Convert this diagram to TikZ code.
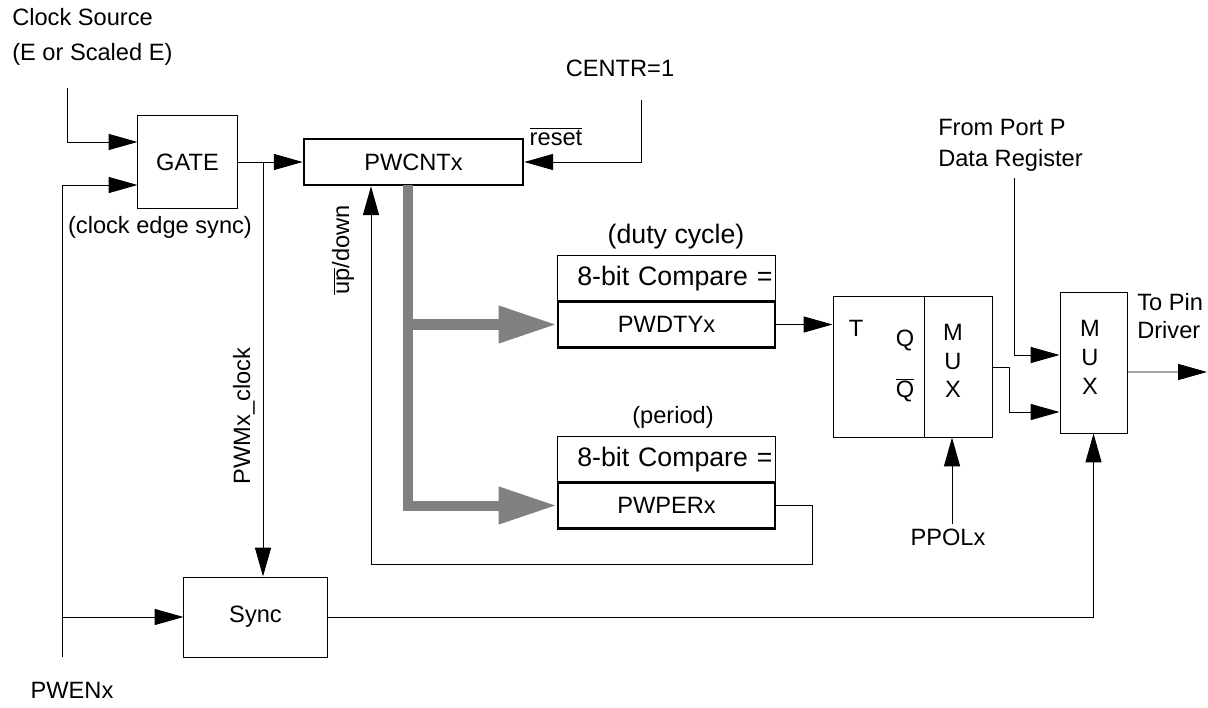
\documentclass[tikz,border=0pt]{standalone}
\usepackage{fontspec}
\setmainfont{Liberation Sans}
\usetikzlibrary{arrows.meta,positioning,calc}
\definecolor{busgray}{RGB}{128,128,128}

\begin{document}
\begin{tikzpicture}[
  x=0.025cm, y=-0.025cm,
  >={Triangle[length=0.72cm,width=0.4cm]},
  every node/.style={font=\fontsize{16.8}{21}\selectfont},
  block/.style={draw, line width=0.7pt, inner sep=0pt},
  regbox/.style={
    draw, line width=1.8pt, inner sep=0pt,
    minimum width=5.425cm, minimum height=1.15cm
  },
  cmpbox/.style={
    draw, line width=0.7pt, inner sep=0pt,
    minimum width=5.425cm, minimum height=1.175cm,
    text width=5.3cm, align=right, font=\fontsize{19}{22}\selectfont
  },
  muxbox/.style={draw, line width=0.7pt, minimum height=3.5cm},
  letters/.style={align=center, font=\fontsize{16.8}{20.5}\selectfont},
  bigtxt/.style={font=\fontsize{19}{22}\selectfont},
  sig/.style={->, line width=0.7pt},
  busline/.style={
    -{Triangle[length=1.45cm,width=0.875cm]},
    line width=0.25cm, draw=busgray
  }
]
\useasboundingbox (0,0) rectangle (1208,708);

% --- Blocks ---
\node[block, minimum width=2.475cm, minimum height=2.3cm] (gate) at (187.5,162) {GATE};
\node[regbox, minimum width=5.475cm] (pwcnt) at (413.5,162) {PWCNTx};
\node[block, minimum width=3.575cm, minimum height=2cm] (sync) at (255.5,617) {Sync};

\node[cmpbox] (dtycmp) at (666.5,278.5) {8-bit Compare =};
\node[regbox] (dtyreg) at (666.5,324.5) {PWDTYx};
\node[cmpbox] (percmp) at (666.5,460) {8-bit Compare =};
\node[regbox] (perreg) at (666.5,505.5) {PWPERx};

\node[muxbox, minimum width=2.275cm] (tff) at (878.5,367) {};
\node[muxbox, minimum width=1.7cm] (mux1) at (958,367) {};
\node[muxbox, minimum width=1.675cm] (mux2) at (1093.5,363) {};

% --- Texts ---
\node[anchor=west, inner sep=0pt, align=left, font=\fontsize{16.8}{24.8}\selectfont]
  (clksrc) at (12,37) {Clock Source\\(E or Scaled E)};
\node (gatesync) at (160,227) {(clock edge sync)};
\node (centrlbl) at (620,68) {CENTR=1};
\node (resetlbl) at (556,137) {$\overline{\mbox{reset}}$};
\node[rotate=90] (clklbl) at (244,416) {PWMx\_clock};
\node[rotate=90] (updownlbl) at (343,250) {$\overline{\mbox{up}}$/down};
\node[bigtxt] (dutylbl) at (676,237) {(duty cycle)};
\node (perlbl) at (673,417) {(period)};
\node (tlbl) at (856,328) {T};
\node (qlbl) at (905,340) {Q};
\node (qbarlbl) at (905,390) {$\overline{\mbox{Q}}$};
\node[letters] (mux1txt) at (953,361) {M\\U\\X};
\node[letters] (mux2txt) at (1090,357.5) {M\\U\\X};
\node[anchor=west, inner sep=0pt, align=left, font=\fontsize{16.8}{22}\selectfont]
  (portlbl) at (938,145) {From Port P\\Data Register};
\node[anchor=west, inner sep=0pt, align=left, font=\fontsize{16.8}{19.8}\selectfont]
  (pinlbl) at (1137,316) {To Pin\\Driver};
\node (ppol) at (948,537) {PPOLx};
\node (pwenlbl) at (72,690) {PWENx};

% --- Free ends and junctions ---
\coordinate (clkin) at (67,88);
\coordinate (pwenbot) at (62,657);
\coordinate (pwenbr) at (62,617);
\coordinate (clkbr) at (263,162);
\coordinate (centr) at (641,100);
\coordinate (loopbl) at (371,564);
\coordinate (bustop) at (408,185);
\coordinate (portp) at (1014,178);
\coordinate (pinout) at (1207,372);

% --- Connectors ---
\draw[sig] (clkin) |- ([yshift=0.5cm]gate.west);
\draw[sig] (pwenbot) |- ([yshift=-0.575cm]gate.west);
\draw[sig] (pwenbr) -- (sync.west);
\draw[sig] (gate.east) -- (pwcnt.west);
\draw[sig] (clkbr) -- (clkbr |- sync.north);
\draw[sig] (centr) |- (pwcnt.east);
\draw[sig] (perreg.east) -- ++(0.9cm,0) |- (loopbl) -- (loopbl |- pwcnt.south);

\draw[busline] (bustop) |- (perreg.west);
\draw[busline] (bustop |- dtyreg.west) -- (dtyreg.west);

\draw[sig] (dtyreg.east) -- (dtyreg.east -| tff.west);
\draw[sig] (mux1.east) -- ++(0.425cm,0) |- ([yshift=-1.225cm]mux2.west);
\draw[sig] (portp) |- ([yshift=0.2cm]mux2.west);
\draw[sig] ([yshift=-0.225cm]mux2.east) -- (pinout);
\draw[sig] ([xshift=-0.15cm]mux1.south |- ppol.north) -- ([xshift=-0.15cm]mux1.south);
\draw[sig] (sync.east) -| (mux2.south);

\end{tikzpicture}
\end{document}
